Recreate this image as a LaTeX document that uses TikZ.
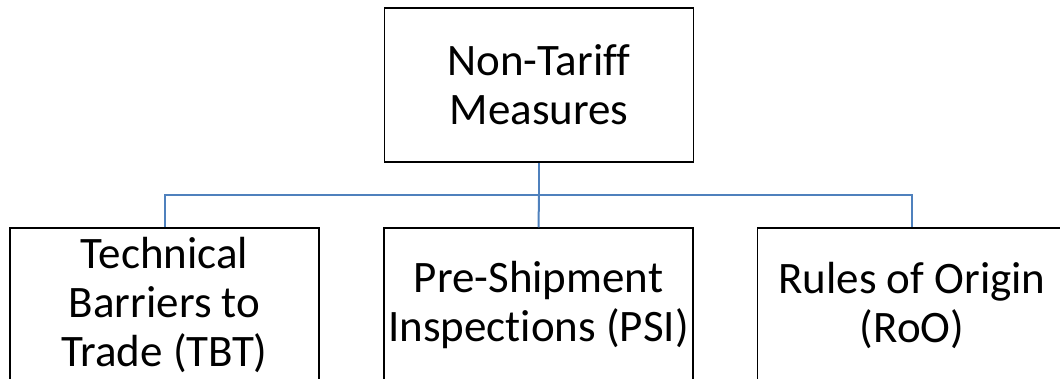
\documentclass[tikz,border=0pt]{standalone}
\usepackage{fontspec}
\setmainfont[Ligatures=NoCommon]{Carlito}
\definecolor{connblue}{RGB}{79,129,189}
\begin{document}
\begin{tikzpicture}[x=1pt,y=-1pt,
  box/.style={draw=black,line width=1.5pt,rectangle,minimum width=309pt,minimum height=154pt,
    align=center,inner sep=0pt,font=\fontsize{45}{49}\selectfont},
  conn/.style={draw=connblue,line width=2pt}]
\useasboundingbox (0,0) rectangle (1060,378);
\clip (0,0) rectangle (1060,378);
\node[box] (top) at (539,85) {Non-Tariff\\Measures};
\node[box] (tbt) at (164.5,305) {Technical\\Barriers to\\Trade (TBT)};
\node[box] (psi) at (538.5,305) {Pre-Shipment\\Inspections (PSI)};
\node[box] (roo) at (912,305) {Rules of Origin\\(RoO)};
\coordinate (bus) at (539,195);
\draw[conn] (top.south) -- (bus);
\draw[conn] (bus) -| (tbt.north);
\draw[conn] (bus) -- (psi.north);
\draw[conn] (bus) -| (roo.north);
\end{tikzpicture}
\end{document}
